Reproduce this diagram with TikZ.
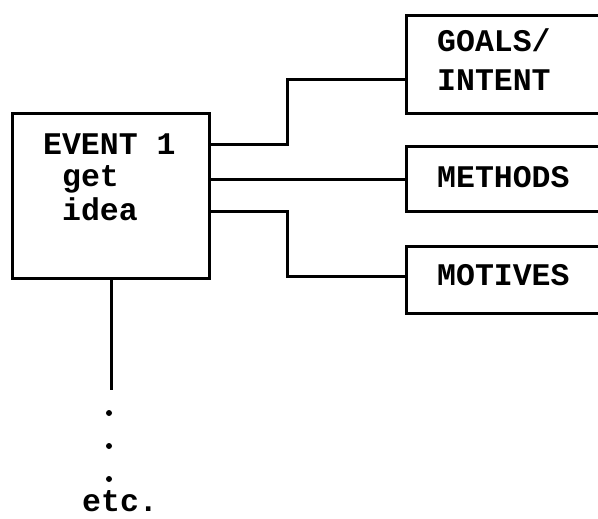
\documentclass[tikz,border=0pt]{standalone}
\usepackage{fontspec}
\usetikzlibrary{calc}
\newfontfamily\cour{Liberation Mono}
\begin{document}
\begin{tikzpicture}[x=1pt,y=-1pt,
  box/.style={draw,line width=3pt,inner sep=0pt,anchor=north west},
  wire/.style={line width=3pt},
  lbl/.style={inner sep=0pt,anchor=base west,font=\cour\bfseries\fontsize{31.5}{33}\selectfont}]
\useasboundingbox (0,0) rectangle (598,519);
\clip (0,0) rectangle (598,519);
% boxes
\node[box,minimum width=197pt,minimum height=165pt] (event) at (11,112) {};
\node[box,minimum width=210pt,minimum height=98pt] (goals) at (405,14) {};
\node[box,minimum width=210pt,minimum height=65pt] (methods) at (405,145) {};
\node[box,minimum width=210pt,minimum height=67pt] (motives) at (405,245) {};
% texts
\node[lbl] (t1) at (43,154) {EVENT 1};
\node[lbl] (t2) at (62,186) {get};
\node[lbl] (t3) at (62,220) {idea};
\node[lbl] (g1) at (437,52) {GOALS/};
\node[lbl] (g2) at (437,91) {INTENT};
\node[lbl] (m1) at (437,187) {METHODS};
\node[lbl] (m2) at (437,285) {MOTIVES};
\node[lbl,text depth=0pt] (etc) at (82,511) {etc.};
% connectors
\coordinate (jg) at (287,80);
\coordinate (jm) at (287,276);
\draw[wire] ($(event.north east)+(0,33)$) -| (jg) -- (goals.west |- jg);
\draw[wire] ($(event.north east)+(0,67)$) -- (methods.west |- 0,179);
\draw[wire] ($(event.north east)+(0,99)$) -| (jm) -- (motives.west |- jm);
\coordinate (down) at (event.south |- 0,390);
\draw[wire] (event.south) -- (down);
\foreach \yy/\nm in {413/d1,446/d2,479/d3}
  \fill (109,\yy) circle (3pt) coordinate (\nm);
\end{tikzpicture}
\end{document}
